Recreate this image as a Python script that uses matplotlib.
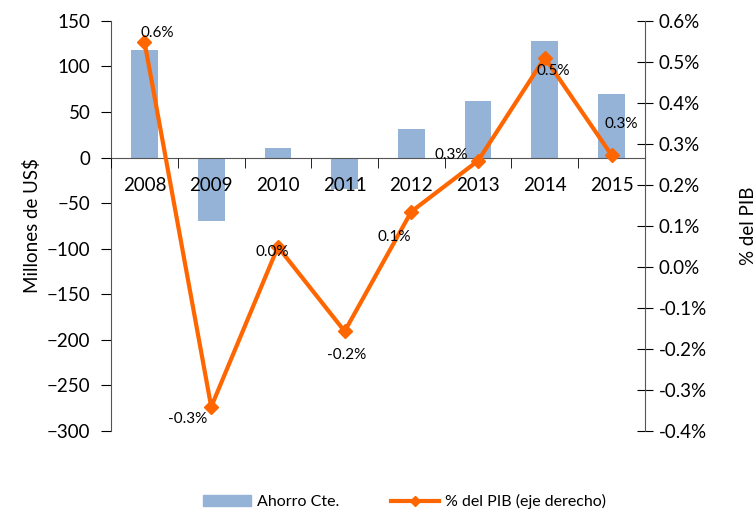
import numpy as np
import matplotlib.pyplot as plt
from matplotlib.lines import Line2D
from matplotlib.patches import Patch

plt.rcParams['font.family'] = ['Lato', 'DejaVu Sans']

years = ['2008', '2009', '2010', '2011', '2012', '2013', '2014', '2015']
ahorro = [118, -70, 10, -35, 31, 62, 128, 70]
pct_pib = [0.549, -0.341, 0.049, -0.157, 0.135, 0.259, 0.51, 0.273]
pct_labels = ['0.6%', '-0.3%', '0.0%', '-0.2%', '0.1%', '0.3%', '0.5%', '0.3%']
right_ticks = ['-0.4%', '-0.3%', '-0.2%', '-0.1%', '0.0%', '0.1%', '0.2%', '0.3%', '0.4%', '0.5%', '0.6%']
# label offsets in pixels (dx, dy) from each point
label_offsets = [(13, 9), (-24, -12), (-6, -5), (2, -24), (-17, -25), (-27, 6), (8, -13), (10, 31)]

bar_color = '#95B3D7'
line_color = '#FF6600'

fig = plt.figure(figsize=(7.56, 5.21), dpi=100)
ax = fig.add_axes([0.147, 0.1727, 0.706, 0.7873])
ax2 = ax.twinx()

x = np.arange(len(years))
ax.bar(x, ahorro, width=0.4, color=bar_color, zorder=1)
ax.set_xlim(-0.5, len(years) - 0.5)
ax.set_ylim(-300, 150)
ax.set_yticks(np.arange(-300, 151, 50))
ax.tick_params(axis='y', direction='out', length=7, labelsize=13.5, pad=8)

ax.spines['top'].set_visible(False)
ax.spines['right'].set_visible(False)
ax.spines['bottom'].set_position(('data', 0))
ax.spines['left'].set_color('#555555')
ax.spines['bottom'].set_color('#555555')
ax.set_xticks(x)
ax.set_xticklabels(years)
ax.set_xticks(np.arange(-0.5, len(years), 1), minor=True)
ax.tick_params(axis='x', which='major', length=0, labelsize=13.5, pad=14)
ax.tick_params(axis='x', which='minor', direction='out', length=7)
ax.xaxis.set_zorder(3)
ax.set_ylabel('Millones de US$', fontsize=13.5, labelpad=4)

ax2.plot(x, pct_pib, color=line_color, lw=3, marker='D', markersize=7, zorder=3)
ax2.set_ylim(-0.4, 0.6)
ax2.set_yticks(np.linspace(-0.4, 0.6, len(right_ticks)))
ax2.set_yticklabels(right_ticks)
ax2.tick_params(axis='y', direction='inout', length=12, labelsize=13.5, pad=4)
for s in ['top', 'left', 'bottom']:
    ax2.spines[s].set_visible(False)
ax2.spines['right'].set_color('#555555')
ax2.set_ylabel('% del PIB', fontsize=13.5, labelpad=24)

for xi, yi, lab, (dx, dy) in zip(x, pct_pib, pct_labels, label_offsets):
    ax2.annotate(lab, (xi, yi), xytext=(dx * 0.72, dy * 0.72), textcoords='offset points',
                 ha='center', va='center', fontsize=11, zorder=4)

handles = [Patch(color=bar_color),
           Line2D([], [], color=line_color, lw=3, marker='D', markersize=5)]
fig.legend(handles, ['Ahorro Cte.', '% del PIB (eje derecho)'], loc='lower center',
           bbox_to_anchor=(0.535, -0.005), ncol=2, frameon=False, fontsize=11.5,
           handlelength=3.0, handletextpad=0.4, columnspacing=3.2)

fig.savefig('out.png', dpi=100)
